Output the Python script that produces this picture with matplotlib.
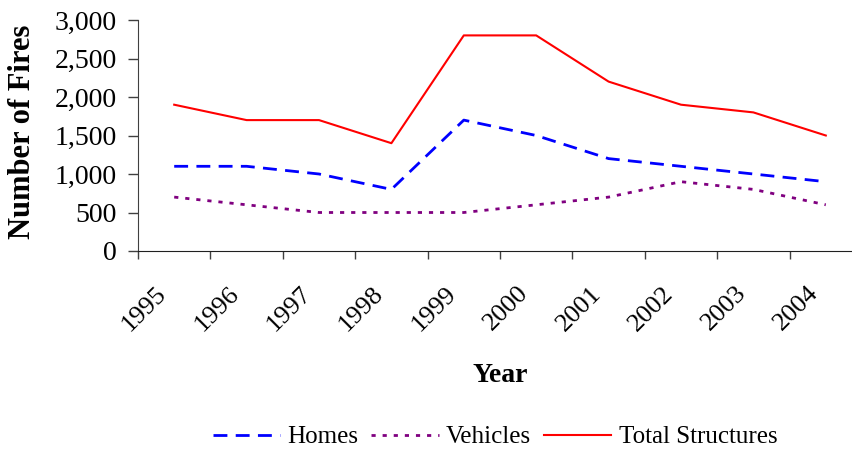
import matplotlib
matplotlib.use('Agg')
import numpy as np
from matplotlib import pyplot as plt
import matplotlib.transforms as mtrans

years = ['1995', '1996', '1997', '1998', '1999', '2000', '2001', '2002', '2003', '2004']
homes = [1100, 1100, 1000, 800, 1700, 1500, 1200, 1100, 1000, 900]
vehicles = [700, 600, 500, 500, 500, 600, 700, 900, 800, 600]
total_structures = [1900, 1700, 1700, 1400, 2800, 2800, 2200, 1900, 1800, 1500]

plt.rcParams['font.family'] = ['Liberation Serif', 'DejaVu Serif']


def chart():
    fig = plt.figure(figsize=(8.53, 4.53), dpi=100)
    # plot area runs a little past the right edge of the picture
    ax = fig.add_axes([138 / 853, 1 - 251 / 453, 724 / 853, 231 / 453])

    x = np.arange(len(years)) + 0.5
    ax.plot(x, homes, color='#0000ff', lw=2.0, dashes=(5, 3), label='Homes')
    ax.plot(x, vehicles, color='#800080', lw=2.0, dashes=(1.5, 2.5), label='Vehicles')
    ax.plot(x, total_structures, color='#ff0000', lw=1.5, label='Total Structures')

    ax.set_xlim(0, len(years))
    ax.set_ylim(0, 3000)
    ax.set_yticks(np.arange(0, 3001, 500))
    ax.set_yticklabels(['{:,}'.format(v) for v in range(0, 3001, 500)])

    # boundaries get the tick marks, centres get the year labels
    ax.set_xticks(np.arange(len(years) + 1))
    ax.set_xticklabels([])
    ax.set_xticks(x, minor=True)
    ax.set_xticklabels(years, minor=True, rotation=45, ha='right', va='center',
                       rotation_mode='anchor', fontsize=19)
    ax.tick_params(axis='x', which='minor', length=0, pad=0)
    off = mtrans.ScaledTranslation(-11 / 100, -39 / 100, fig.dpi_scale_trans)
    for lab in ax.get_xticklabels(minor=True):
        lab.set_transform(lab.get_transform() + off)

    ax.tick_params(axis='y', which='major', direction='out', length=7,
                   width=1, color='#404040', labelsize=20, pad=8)
    ax.tick_params(axis='x', which='major', direction='out', length=6,
                   width=1, color='#404040')

    for s in ['top', 'right']:
        ax.spines[s].set_visible(False)
    ax.spines['left'].set_color('#404040')
    ax.spines['bottom'].set_color('#202020')

    fig.text(23 / 853, 1 - 132 / 453, 'Number of Fires', rotation=90, fontsize=22,
             fontweight='bold', ha='center', va='center')
    fig.text(500 / 853, 1 - 375 / 453, 'Year', fontsize=20, fontweight='bold',
             ha='center', va='center')

    fig.legend(loc='center', bbox_to_anchor=(495 / 853, 1 - 437 / 453), ncol=3,
               frameon=False, fontsize=18, handlelength=2.7, handletextpad=0.3,
               columnspacing=0.5, borderpad=0)

    fig.savefig('out.png', dpi=100)


if __name__ == '__main__':
    chart()
